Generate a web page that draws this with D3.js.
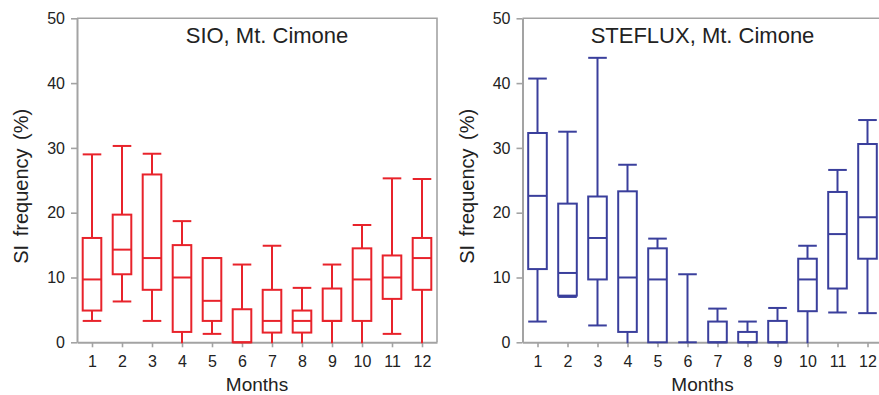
<!DOCTYPE html>
<html>
<head>
<meta charset="utf-8">
<script src="https://cdn.jsdelivr.net/npm/d3@7"></script>
<style>
  html, body { margin: 0; padding: 0; background: #fff; }
  svg { display: block; font-family: "Liberation Sans", Arial, sans-serif; }
</style>
</head>
<body>
<svg id="chart" width="879" height="395"></svg>
<script>
// Monthly SI frequency (%) box statistics at Mt. Cimone
const months = [1, 2, 3, 4, 5, 6, 7, 8, 9, 10, 11, 12];
const yTicks = [0, 10, 20, 30, 40, 50];

// SIO
const sioMin    = [3.3, 6.3, 3.3, 0.0, 1.3, 0.0, 0.0, 0.0, 0.0, 0.0, 1.3, 0.0];
const sioQ1     = [4.9, 10.5, 8.1, 1.6, 3.3, 0.0, 1.5, 1.5, 3.3, 3.3, 6.7, 8.1];
const sioMedian = [9.7, 14.3, 13.0, 10.0, 6.4, 0.0, 3.3, 3.3, 3.3, 9.7, 10.0, 13.0];
const sioQ3     = [16.1, 19.7, 25.9, 15.0, 13.0, 5.1, 8.1, 4.9, 8.3, 14.5, 13.4, 16.1];
const sioMax    = [29.0, 30.3, 29.1, 18.7, 13.0, 12.0, 14.9, 8.4, 12.0, 18.1, 25.3, 25.2];

// STEFLUX
const stfMin    = [3.2, 7.0, 2.6, 0.0, 0.0, 0.0, 0.0, 0.0, 0.0, 0.0, 4.6, 4.5];
const stfQ1     = [11.3, 7.2, 9.7, 1.6, 0.0, 0.0, 0.0, 0.0, 0.0, 4.8, 8.3, 12.9];
const stfMedian = [22.6, 10.7, 16.1, 10.0, 9.7, 0.0, 0.0, 0.0, 0.0, 9.7, 16.7, 19.3];
const stfQ3     = [32.3, 21.4, 22.5, 23.3, 14.5, 0.0, 3.2, 1.6, 3.3, 12.9, 23.2, 30.6];
const stfMax    = [40.7, 32.5, 43.9, 27.4, 16.0, 10.5, 5.2, 3.2, 5.3, 14.9, 26.6, 34.3];

const panels = [
  { title: "SIO, Mt. Cimone", color: "#e8232b",
    min: sioMin, q1: sioQ1, med: sioMedian, q3: sioQ3, max: sioMax,
    left: 77, titleX: 267, labelX: 22 },
  { title: "STEFLUX, Mt. Cimone", color: "#3a3f9c",
    min: stfMin, q1: stfQ1, med: stfMedian, q3: stfQ3, max: stfMax,
    left: 522.5, titleX: 702.5, labelX: 468 }
];

const svg = d3.select("#chart");
const plotTop = 18.3, plotBottom = 342.3, plotW = 360;
const axisColor = "#a3a3a3";
const textColor = "#222";

const y = d3.scaleLinear().domain([0, 50]).range([plotBottom, plotTop]);

panels.forEach(p => {
  const x = d3.scaleLinear().domain([0.5, 12.5]).range([p.left, p.left + plotW]);
  const step = x(2) - x(1);
  const boxW = step * 0.62;
  const g = svg.append("g");

  // frame: top and right edges
  g.append("path")
    .attr("d", `M${x(0.5)},${y(50)}H${x(12.5)}V${y(0)}`)
    .attr("fill", "none").attr("stroke", axisColor).attr("stroke-width", 1.6);

  // axes
  const ya = g.append("g").attr("transform", `translate(${x(0.5)},0)`)
    .call(d3.axisLeft(y).tickValues(yTicks).tickSize(6).tickPadding(6).tickSizeOuter(0));
  const xa = g.append("g").attr("transform", `translate(0,${y(0)})`)
    .call(d3.axisBottom(x).tickValues(months).tickSize(5).tickPadding(8).tickSizeOuter(0));
  [ya, xa].forEach(a => {
    a.select(".domain").attr("stroke", axisColor).attr("stroke-width", 2);
    a.selectAll(".tick line").attr("stroke", axisColor).attr("stroke-width", 1.6);
    a.selectAll(".tick text").attr("fill", textColor)
      .style("font-size", "16px").style("font-family", "'Liberation Sans', Arial, sans-serif");
  });

  // boxes
  const data = months.map((m, i) => ({ m, lo: p.min[i], q1: p.q1[i], med: p.med[i], q3: p.q3[i], hi: p.max[i] }));
  const b = g.selectAll("g.box").data(data).join("g").attr("class", "box")
    .attr("fill", "none").attr("stroke", p.color).attr("stroke-width", 2);

  // whiskers
  b.append("line")
    .attr("x1", d => x(d.m)).attr("x2", d => x(d.m))
    .attr("y1", d => y(d.q3)).attr("y2", d => y(d.hi));
  b.append("line")
    .attr("x1", d => x(d.m)).attr("x2", d => x(d.m))
    .attr("y1", d => y(d.q1)).attr("y2", d => y(d.lo))
    .attr("stroke-linecap", d => d.lo === 0 ? "square" : "butt");
  // caps
  b.append("line")
    .attr("x1", d => x(d.m) - boxW / 2).attr("x2", d => x(d.m) + boxW / 2)
    .attr("y1", d => y(d.hi)).attr("y2", d => y(d.hi));
  b.filter(d => d.lo > 0).append("line")
    .attr("x1", d => x(d.m) - boxW / 2).attr("x2", d => x(d.m) + boxW / 2)
    .attr("y1", d => y(d.lo)).attr("y2", d => y(d.lo));
  // box and median
  b.append("rect")
    .attr("x", d => x(d.m) - boxW / 2).attr("width", boxW)
    .attr("y", d => y(d.q3)).attr("height", d => y(d.q1) - y(d.q3))
    .attr("fill", "#fff");
  b.append("line")
    .attr("x1", d => x(d.m) - boxW / 2).attr("x2", d => x(d.m) + boxW / 2)
    .attr("y1", d => y(d.med)).attr("y2", d => y(d.med));

  // title
  g.append("text").attr("x", p.titleX).attr("y", 43)
    .attr("text-anchor", "middle").attr("fill", textColor)
    .style("font-size", "22px").text(p.title);

  // axis titles
  g.append("text").attr("x", x(6.5)).attr("y", 391)
    .attr("text-anchor", "middle").attr("fill", textColor)
    .style("font-size", "19px").text("Months");
  g.append("text")
    .attr("transform", `translate(${p.labelX + 6},${(plotTop + plotBottom) / 2 + 6}) rotate(-90)`)
    .attr("text-anchor", "middle").attr("fill", textColor)
    .style("font-size", "20px").style("word-spacing", "3px").text("SI frequency (%)");
});
</script>
</body>
</html>
